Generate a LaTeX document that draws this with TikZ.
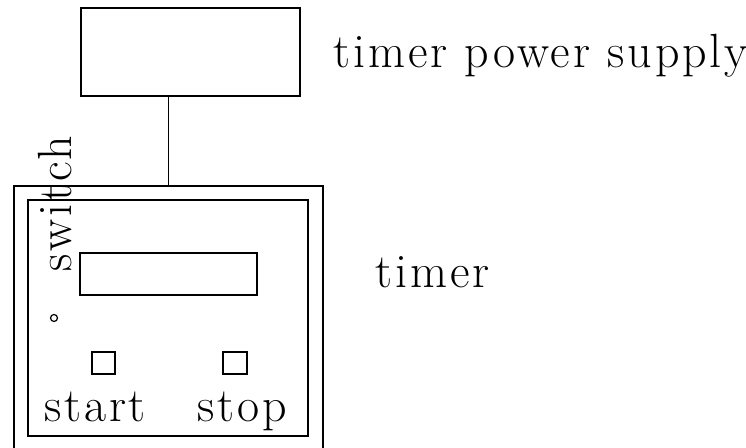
\documentclass[tikz,border=0pt]{standalone}
\usepackage{fontspec}
\setmainfont{Latin Modern Roman}[LetterSpace=6]
\tikzset{
  box/.style={draw, line width=.6pt, inner sep=0pt},
  lbl/.style={inner sep=0pt, font=\fontsize{24}{28}\selectfont}
}
\begin{document}
\begin{tikzpicture}[x=.5pt,y=-.5pt]
\useasboundingbox (0,0) rectangle (746,448);

\node[box, minimum width=109.5pt, minimum height=44pt] (supply) at (190.5,52) {};
\node[lbl, anchor=base west] (supplytxt) at (333,68) {timer power supply};

\node[box, minimum width=154.5pt, minimum height=142pt] (timer) at (168.5,328) {};
\node[box, minimum width=140pt, minimum height=118pt] (face) at (168,318) {};
\node[lbl, anchor=base west] (timertxt) at (375,288) {timer};

\draw[line width=.6pt] (timer.north) -- (timer.north |- supply.south);

\node[box, minimum width=88.5pt, minimum height=21pt] (display) at (168.5,274) {};
\node[box, circle, minimum size=3.5pt] (led) at (54,318) {};
\node[lbl, anchor=base, rotate=90] (switchtxt) at (71,203.5) {switch};

\node[box, minimum width=11.5pt, minimum height=11pt] (startbtn) at (103.5,363) {};
\node[box, minimum width=12pt, minimum height=11pt] (stopbtn) at (235,363) {};
\node[lbl, anchor=base] (starttxt) at (95,422) {start};
\node[lbl, anchor=base] (stoptxt) at (242.5,422) {stop};

\end{tikzpicture}
\end{document}
